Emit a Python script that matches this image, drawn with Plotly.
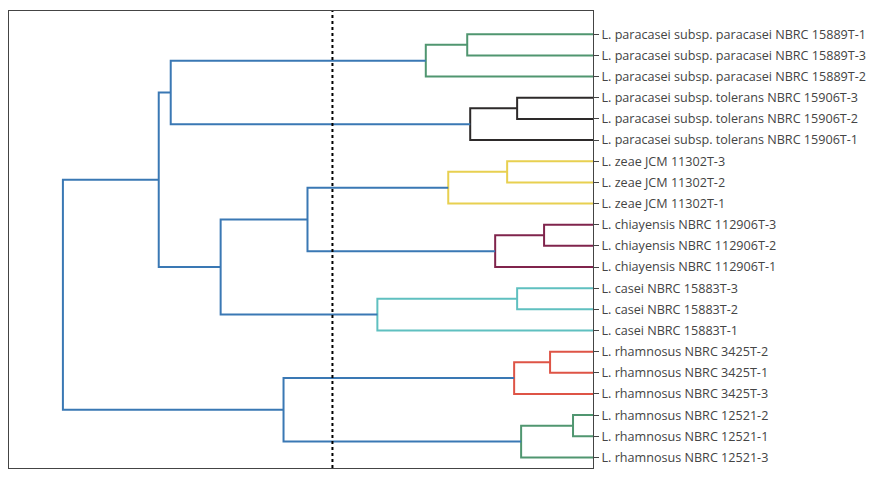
import plotly.graph_objects as go

# leaf labels, top to bottom
leaf_labels = [
    "L. paracasei subsp. paracasei NBRC 15889T-1",
    "L. paracasei subsp. paracasei NBRC 15889T-3",
    "L. paracasei subsp. paracasei NBRC 15889T-2",
    "L. paracasei subsp. tolerans NBRC 15906T-3",
    "L. paracasei subsp. tolerans NBRC 15906T-2",
    "L. paracasei subsp. tolerans NBRC 15906T-1",
    "L. zeae JCM 11302T-3",
    "L. zeae JCM 11302T-2",
    "L. zeae JCM 11302T-1",
    "L. chiayensis NBRC 112906T-3",
    "L. chiayensis NBRC 112906T-2",
    "L. chiayensis NBRC 112906T-1",
    "L. casei NBRC 15883T-3",
    "L. casei NBRC 15883T-2",
    "L. casei NBRC 15883T-1",
    "L. rhamnosus NBRC 3425T-2",
    "L. rhamnosus NBRC 3425T-1",
    "L. rhamnosus NBRC 3425T-3",
    "L. rhamnosus NBRC 12521-2",
    "L. rhamnosus NBRC 12521-1",
    "L. rhamnosus NBRC 12521-3",
]

# merges: (cluster name, left child, right child, distance, colour group)
# children are leaf indices (int) or earlier cluster names (str)
merge_names = ["c21", "c22", "c23", "c24", "c25", "c26", "c27", "c28", "c29", "c30",
               "c31", "c32", "c33", "c34", "c35", "c36", "c37", "c38", "c39", "c40"]
merge_left = [18, 15, 9, "c21", 3, 12, "c22", 6, "c23", "c25",
              0, "c28", "c31", "c26", "c32", "c35", "c27", "c33", "c38", "c39"]
merge_right = [19, 16, 10, 20, 4, 13, 17, 7, 11, 5,
               1, 8, 2, 14, "c29", "c34", "c24", "c30", "c36", "c37"]
merge_dist = [2.0, 4.3, 4.9, 7.2, 7.6, 7.6, 7.9, 8.6, 9.8, 12.3,
              12.6, 14.5, 16.75, 21.6, 28.6, 37.3, 31.0, 42.3, 43.5, 53.1]
merge_group = ["g", "r", "m", "g", "k", "c", "r", "y", "m", "k",
               "g", "y", "g", "c", "b", "b", "b", "b", "b", "b"]

cut_threshold = 26.1

group_colors = {
    "b": "rgb(58,120,180)",
    "g": "rgb(80,150,112)",
    "k": "rgb(45,42,42)",
    "y": "rgb(232,208,80)",
    "m": "rgb(128,36,76)",
    "c": "rgb(95,192,192)",
    "r": "rgb(222,84,70)",
}

n = len(leaf_labels)
leaf_y = [10 * (n - 1 - i) + 5 for i in range(n)]

pos = {}  # node -> (y, dist)
for i in range(n):
    pos[i] = (leaf_y[i], 0.0)

fig = go.Figure()
for name, a, b, d, grp in zip(merge_names, merge_left, merge_right, merge_dist, merge_group):
    ya, da = pos[a]
    yb, db = pos[b]
    fig.add_trace(go.Scatter(
        x=[da, d, d, db],
        y=[ya, ya, yb, yb],
        mode="lines",
        line=dict(color=group_colors[grp], width=2),
        hoverinfo="skip",
        showlegend=False,
    ))
    pos[name] = ((ya + yb) / 2, d)

fig.add_shape(
    type="line", xref="x", yref="paper",
    x0=cut_threshold, x1=cut_threshold, y0=0, y1=1,
    line=dict(color="black", width=2, dash="dot"),
)

fig.update_xaxes(
    range=[58.5, 0],
    showticklabels=False, ticks="", showgrid=False, zeroline=False,
    showline=True, mirror=True, linecolor="#444", linewidth=1,
)
fig.update_yaxes(
    range=[0, 216],
    side="right",
    tickvals=leaf_y, ticktext=leaf_labels,
    ticks="outside", ticklen=5, tickcolor="#444",
    showgrid=False, zeroline=False,
    showline=True, mirror=True, linecolor="#444", linewidth=1,
    tickfont=dict(size=12.6, color="#444"),
)
fig.update_layout(
    width=886, height=477,
    margin=dict(l=1, r=301, t=3, b=17),
    paper_bgcolor="white", plot_bgcolor="white",
    font=dict(family="Open Sans, sans-serif"),
)

fig.write_html("out.html")
